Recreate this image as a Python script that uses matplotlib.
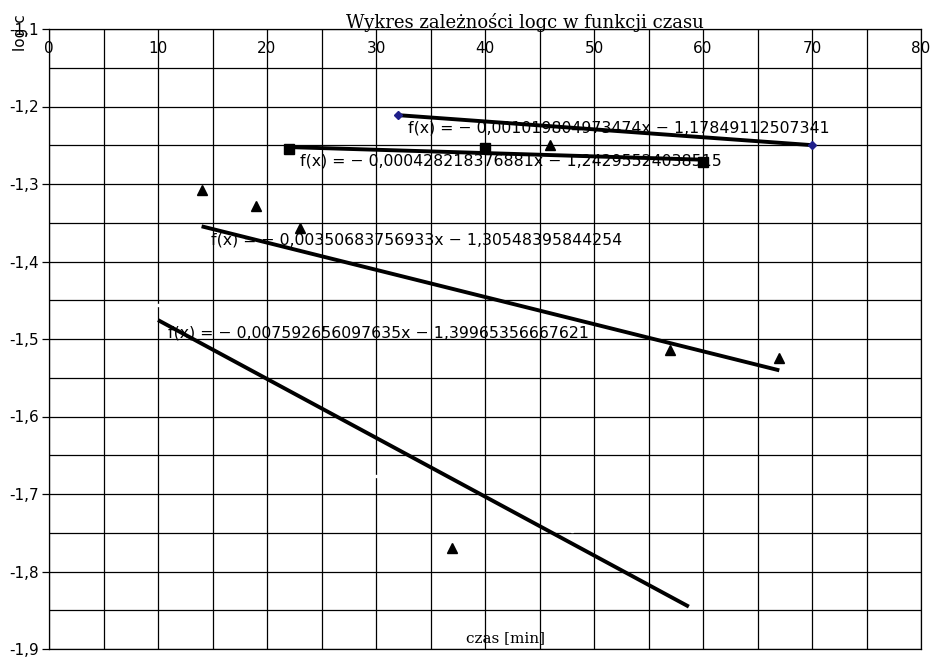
import numpy as np
import matplotlib
matplotlib.use("Agg")
import matplotlib.pyplot as plt
from matplotlib.ticker import MultipleLocator, FuncFormatter

# series
diamond_x = [32, 70]
diamond_y = [-1.211, -1.250]

square_x = [22, 40, 60]
square_y = [-1.2548, -1.2535, -1.2716]

triangle_x = [14, 19, 23, 37, 46, 57, 67]
triangle_y = [-1.308, -1.328, -1.357, -1.770, -1.250, -1.514, -1.5245]

# hidden (white) points of the last series
white_x = [10, 30, 48]
white_y = [-1.456, -1.677, -1.748]

# trendlines: slope, intercept, x range, label text
trend_slope = [-0.001019804973474, -0.000428218376881, -0.00350683756933, -0.007592656097635]
trend_icept = [-1.17849112507341, -1.24295524038515, -1.30548395844254, -1.39965356667621]
trend_xmin = [32, 22, 14, 10]
trend_xmax = [70, 60, 67, 58.7]
trend_labels = [
    "f(x) = \u2212 0,001019804973474x \u2212 1,17849112507341",
    "f(x) = \u2212 0,000428218376881x \u2212 1,24295524038515",
    "f(x) = \u2212 0,00350683756933x \u2212 1,30548395844254",
    "f(x) = \u2212 0,007592656097635x \u2212 1,39965356667621",
]
label_x = [32.9, 23.0, 14.9, 10.9]
label_y = [-1.2277, -1.2703, -1.3723, -1.4923]

fig = plt.figure(figsize=(9.34, 6.61), dpi=100)
ax = fig.add_axes([49 / 934, 1 - 649 / 661, 872 / 934, 620 / 661])

ax.set_xlim(0, 80)
ax.set_ylim(-1.9, -1.1)

ax.xaxis.set_major_locator(MultipleLocator(10))
ax.xaxis.set_minor_locator(MultipleLocator(5))
ax.yaxis.set_major_locator(MultipleLocator(0.1))
ax.yaxis.set_minor_locator(MultipleLocator(0.05))
ax.grid(True, which="both", color="black", linewidth=0.9)
ax.set_axisbelow(True)

ax.xaxis.tick_top()
ax.tick_params(axis="x", which="both", length=0, pad=-19.5, labelsize=11)
ax.tick_params(axis="y", which="major", length=5, width=0.9, pad=2, labelsize=11)
ax.tick_params(axis="y", which="minor", length=0)
ax.xaxis.set_major_formatter(FuncFormatter(lambda v, p: "%d" % v))
ax.yaxis.set_major_formatter(FuncFormatter(lambda v, p: ("%.1f" % v).replace(".", ",")))
for s in ax.spines.values():
    s.set_color("black")
    s.set_linewidth(0.9)

for a, b, x0, x1 in zip(trend_slope, trend_icept, trend_xmin, trend_xmax):
    xs = np.array([x0, x1])
    ax.plot(xs, a * xs + b, color="black", linewidth=2.8, solid_capstyle="butt", zorder=3)

ax.plot(diamond_x, diamond_y, linestyle="none", marker="D", markersize=4.5,
        color="#1f1f8a", zorder=4)
ax.plot(square_x, square_y, linestyle="none", marker="s", markersize=6.5,
        color="black", zorder=4)
ax.plot(triangle_x, triangle_y, linestyle="none", marker="^", markersize=7,
        color="black", zorder=4)
ax.plot(white_x, white_y, linestyle="none", marker="s", markersize=2,
        color="white", zorder=4)

for t, lx, ly in zip(trend_labels, label_x, label_y):
    ax.text(lx, ly, t, fontsize=11.35, ha="left", va="center", zorder=5)

fig.text(525 / 934, 1 - 28 / 661, "Wykres zależności logc w funkcji czasu",
         family="DejaVu Serif", fontsize=13, ha="center", va="baseline")
fig.text(505 / 934, 1 - 638 / 661, "czas [min]", family="DejaVu Serif",
         fontsize=11, ha="center", va="center")
fig.text(21 / 934, 1 - 33 / 661, "log c", fontsize=11, rotation=90,
         ha="center", va="center")

fig.savefig("out.png", dpi=100)
